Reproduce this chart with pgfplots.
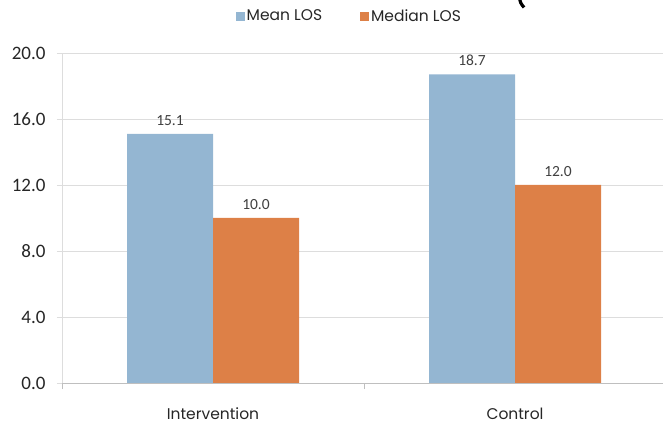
\documentclass[border=0pt]{standalone}
\usepackage{fontspec}
\setmainfont{Carlito}
\newfontfamily\gothic{Poppins}
\usepackage{pgfplots}
\pgfplotsset{compat=1.18}
\definecolor{meanblue}{HTML}{94B6D2}
\definecolor{medorange}{HTML}{DD8047}
\definecolor{gridgray}{HTML}{DDDDDD}
\definecolor{axisgray}{HTML}{BFBFBF}
\definecolor{labelgray}{HTML}{404040}

\begin{document}
\begin{tikzpicture}
\begin{axis}[
  name=ax, at={(0pt,0pt)}, anchor=south west,
  scale only axis, width=601pt, height=330pt,
  ybar=0pt, bar width=86pt,
  xmin=-0.5, xmax=1.49, ymin=0, ymax=20,
  axis x line*=bottom, axis y line*=left,
  x axis line style={axisgray, -}, y axis line style={gridgray, -},
  tick align=outside,
  ytick={0,4,8,12,16,20},
  major tick length=5pt,
  ytick style={gridgray},
  ymajorgrids, grid style={gridgray, line width=0.8pt},
  /pgf/number format/assume math mode=true,
  yticklabel style={/pgf/number format/.cd, fixed, fixed zerofill, precision=1,
    /tikz/.cd, font=\fontsize{19}{19}\selectfont, text=black!85, xshift=-8pt},
  xtick={0,1}, xticklabels={Intervention, Control},
  xtick style={draw=none},
  xticklabel style={font=\gothic\fontsize{15.5}{15.5}\selectfont, text=black!85, yshift=-16pt},
  extra x ticks={-0.5,0.5},
  extra x tick labels={},
  extra x tick style={xtick style={axisgray, draw=axisgray}, major tick length=6pt},
  nodes near coords,
  nodes near coords style={font=\fontsize{15.5}{15.5}\selectfont, text=labelgray,
    yshift=5pt, /pgf/number format/.cd, fixed, fixed zerofill, precision=1},
  legend style={at={(0.478,1.112)}, anchor=center, draw=none, fill=none,
    font=\gothic\fontsize{15.5}{15.5}\selectfont, text=black!85},
  legend columns=2,
  /tikz/every even column/.append style={column sep=36pt},
  legend image code/.code={\fill[#1] (0pt,-4.5pt) rectangle (9pt,4.5pt);},
]
\addplot[fill=meanblue, draw=none] coordinates {(0,15.1) (1,18.7)};
\addplot[fill=medorange, draw=none] coordinates {(0,10.0) (1,12.0)};
\legend{Mean LOS, Median LOS}
\end{axis}
% stroke of a bracket cut off at the top edge
\draw[line width=3.2pt] ([shift={(457.5pt,385pt)}]ax.south west)
  .. controls +(1pt,-5pt) .. +(4.5pt,-9.5pt);
% fixed page frame around the axis
\pgfresetboundingbox
\path[use as bounding box] ([shift={(-62pt,-42pt)}]ax.south west) rectangle +(663pt,425pt);
\end{tikzpicture}
\end{document}
